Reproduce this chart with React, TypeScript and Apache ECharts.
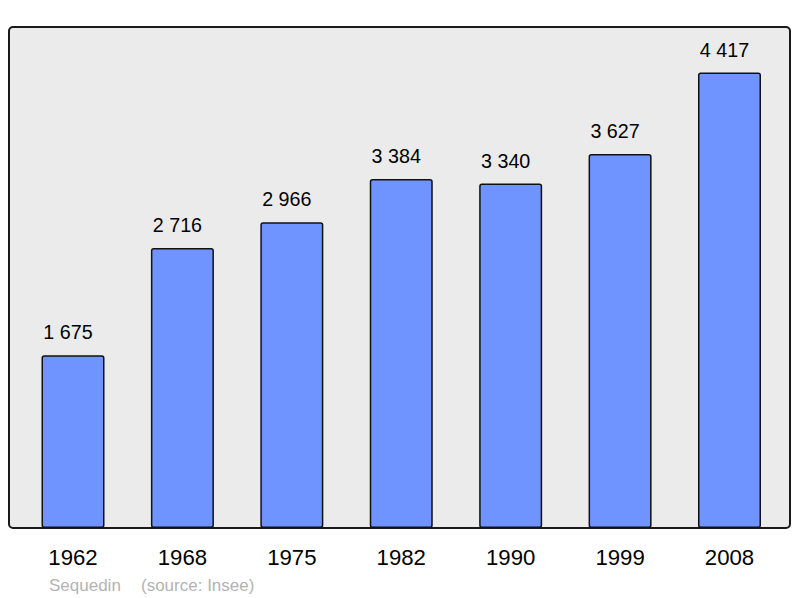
import React, { useEffect, useRef } from "react";
import * as echarts from "echarts";

const years = ["1962", "1968", "1975", "1982", "1990", "1999", "2008"];
const population = [1675, 2716, 2966, 3384, 3340, 3627, 4417];
const townName = "Sequedin";
const sourceNote = "(source: Insee)";

const FONT = "'Liberation Sans', Arial, sans-serif";

function fmt(v: number): string {
  return String(v).replace(/\B(?=(\d{3})+(?!\d))/g, " ");
}

export default function App() {
  const ref = useRef<HTMLDivElement>(null);
  useEffect(() => {
    if (!ref.current) return;
    const chart = echarts.init(ref.current, undefined, { renderer: "svg" });
    const maxVal = Math.max(...population) * 1.1;
    chart.setOption({
      animation: false,
      backgroundColor: "#ffffff",
      grid: { left: 18.3, right: 15.8, top: 27, bottom: 70, containLabel: false },
      xAxis: {
        type: "category",
        data: years,
        axisLine: { show: false },
        axisTick: { show: false },
        axisLabel: {
          color: "#000000",
          fontSize: 22.2,
          fontFamily: FONT,
          margin: 18,
        },
      },
      yAxis: {
        type: "value",
        min: 0,
        max: maxVal,
        show: false,
        splitLine: { show: false },
      },
      graphic: [
        {
          type: "rect",
          z: -10,
          shape: { x: 9, y: 27, width: 781, height: 501, r: 4 },
          style: { fill: "#ebebeb", stroke: "#1a1a1a", lineWidth: 2 },
          silent: true,
        },
        {
          type: "text",
          x: 49,
          y: 585,
          style: {
            text: townName,
            fill: "#b3b3b3",
            font: `17px ${FONT}`,
            verticalAlign: "middle",
          },
        },
        {
          type: "text",
          x: 141,
          y: 585,
          style: {
            text: sourceNote,
            fill: "#b3b3b3",
            font: `17px ${FONT}`,
            verticalAlign: "middle",
          },
        },
      ],
      series: [
        {
          type: "bar",
          data: population,
          barWidth: 63,
          itemStyle: {
            color: "#7094ff",
            borderColor: "#111111",
            borderWidth: 1.5,
            borderRadius: 2,
          },
          label: {
            show: true,
            position: "top",
            distance: 13,
            offset: [-5, 0],
            color: "#000000",
            fontSize: 19.7,
            fontFamily: FONT,
            formatter: (p: any) => fmt(p.value),
          },
        },
      ],
    });
    return () => chart.dispose();
  }, []);
  return (
    <div
      ref={ref}
      style={{ position: "absolute", left: 0, top: 0, width: 800, height: 598 }}
    />
  );
}
